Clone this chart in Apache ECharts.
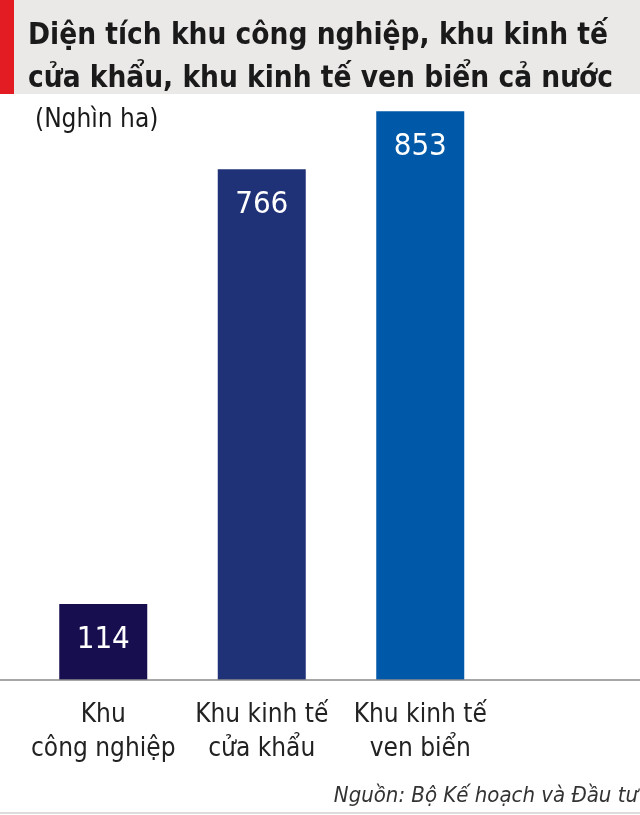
<!DOCTYPE html>
<html><head><meta charset="utf-8">
<script src="https://cdn.jsdelivr.net/npm/echarts@6/dist/echarts.min.js"></script>
<style>html,body{margin:0;padding:0;background:#fff}#c{width:640px;height:815px}</style>
</head><body><div id="c"></div>
<script>
const categories = ["Khu\ncông nghiệp", "Khu kinh tế\ncửa khẩu", "Khu kinh tế\nven biển"];
const values = [114, 766, 853];
const barColors = ["#170e50", "#1f3278", "#0059a8"];
const titleLines = ["Diện tích khu công nghiệp, khu kinh tế", "cửa khẩu, khu kinh tế ven biển cả nước"];
const unitLabel = "(Nghìn ha)";
const sourceText = "Nguồn: Bộ Kế hoạch và Đầu tư";

const FONT = "'Liberation Sans Narrow','DejaVu Sans Condensed','Roboto',sans-serif";
const chart = echarts.init(document.getElementById('c'), null, {renderer: 'canvas'});
chart.setOption({
  animation: false,
  backgroundColor: '#fff',
  grid: {left: 24, width: 475.5, top: 80, bottom: 135, containLabel: false},
  xAxis: {
    type: 'category', data: categories,
    axisLine: {show: false}, axisTick: {show: false},
    axisLabel: {fontFamily: FONT, fontSize: 26, color: '#222', lineHeight: 34, margin: 18, interval: 0}
  },
  yAxis: {type: 'value', min: 0, max: 900, show: false, splitLine: {show: false}},
  series: [{
    type: 'bar', barWidth: 88,
    data: values.map((v, i) => ({value: v, itemStyle: {color: barColors[i]}})),
    label: {show: true, position: 'insideTop', distance: 20, color: '#fff', fontFamily: FONT, fontSize: 31}
  }],
  graphic: [
    {type: 'rect', shape: {x: 0, y: 0, width: 640, height: 94}, style: {fill: '#ebe8e8'}, z: 0},
    {type: 'rect', shape: {x: 0, y: 0, width: 14, height: 94}, style: {fill: '#e31b23'}, z: 1},
    {type: 'text', left: 28, top: 15, z: 2, style: {text: titleLines.join('\n'), fontFamily: FONT, fontWeight: 'bold', fontSize: 29.5, lineHeight: 43, fill: '#1a1a1a'}},
    {type: 'text', left: 35, top: 107, z: 2, style: {text: unitLabel, fontFamily: FONT, fontSize: 26, fill: '#1a1a1a'}},
    {type: 'line', shape: {x1: 0, y1: 680, x2: 640, y2: 680}, style: {stroke: '#8a8a8a', lineWidth: 1.5}, z: 3},
    {type: 'text', right: 2, top: 785, z: 2, style: {text: sourceText, fontFamily: FONT, fontStyle: 'italic', fontSize: 22, fill: '#333'}},
    {type: 'line', shape: {x1: 0, y1: 813, x2: 640, y2: 813}, style: {stroke: '#dddddd', lineWidth: 2}, z: 3}
  ]
});
</script></body></html>
